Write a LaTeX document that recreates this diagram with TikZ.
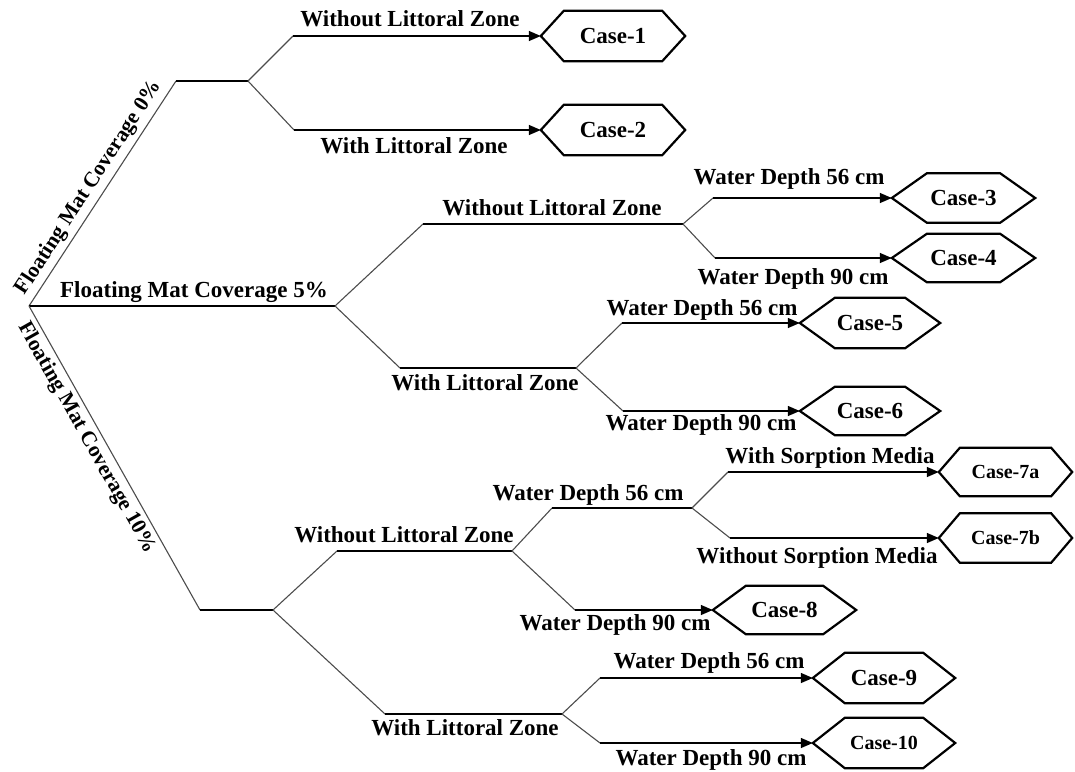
\documentclass[tikz,border=0pt]{standalone}
\usepackage{fontspec}
\setmainfont{Liberation Serif}
\usetikzlibrary{arrows.meta}
\begin{document}
\begin{tikzpicture}[x=1pt,y=-1pt,
  lbl/.style={font=\bfseries\fontsize{23}{27}\selectfont, inner sep=0pt, anchor=base},
  rlbl/.style={font=\bfseries\fontsize{21.5}{25}\selectfont, inner sep=4pt},
  hexnode/.style={font=\bfseries\fontsize{23}{27}\selectfont, inner sep=0pt},
  smallcase/.style={font=\bfseries\fontsize{20}{24}\selectfont},
  slant/.style={draw=black!70, line width=1.1pt},
  flat/.style={draw=black, line width=1.4pt},
  arr/.style={flat, -{Triangle[length=12pt,width=10pt]}},
  hexline/.style={draw=black, line width=2.2pt, line join=miter}
]
\useasboundingbox (0,0) rectangle (1075,771);

% hexagon nodes
\node[hexnode, minimum width=144pt, minimum height=50pt] (c1) at (613,36) {Case-1};
\node[hexnode, minimum width=144pt, minimum height=50pt] (c2) at (613,130) {Case-2};
\node[hexnode, minimum width=143pt, minimum height=49pt] (c3) at (963.5,198) {Case-3};
\node[hexnode, minimum width=143pt, minimum height=48pt] (c4) at (963.5,258) {Case-4};
\node[hexnode, minimum width=140pt, minimum height=50pt] (c5) at (870,323) {Case-5};
\node[hexnode, minimum width=140pt, minimum height=48pt] (c6) at (870,411) {Case-6};
\node[hexnode, smallcase, minimum width=133pt, minimum height=48pt] (c7a) at (1005.5,472) {Case-7a};
\node[hexnode, smallcase, minimum width=133pt, minimum height=49pt] (c7b) at (1005.5,538) {Case-7b};
\node[hexnode, minimum width=143pt, minimum height=48pt] (c8) at (784.5,610) {Case-8};
\node[hexnode, minimum width=142pt, minimum height=50pt] (c9) at (884,678) {Case-9};
\node[hexnode, smallcase, minimum width=142pt, minimum height=50pt] (c10) at (884,743) {Case-10};

\foreach \n/\s in {c1/23,c2/23,c3/35,c4/35,c5/35,c6/35,c7a/21,c7b/21,c8/33,c9/32,c10/32}
  \draw[hexline] (\n.west) -- ([xshift=\s]\n.north west) -- ([xshift=-\s]\n.north east)
    -- (\n.east) -- ([xshift=-\s]\n.south east) -- ([xshift=\s]\n.south west) -- cycle;

% junction coordinates
\coordinate (root) at (29,306);
\coordinate (f0a) at (176,81);
\coordinate (f0b) at (248,81);
\coordinate (t1) at (293,36);
\coordinate (t2) at (294,130);
\coordinate (f5) at (335,306);
\coordinate (m1) at (423,224);
\coordinate (m1e) at (683,224);
\coordinate (t3) at (713,198);
\coordinate (t4) at (715,258);
\coordinate (m2) at (400,368);
\coordinate (m2e) at (576,368);
\coordinate (t5) at (622,323);
\coordinate (t6) at (623,411);
\coordinate (b0) at (200,610);
\coordinate (b1) at (273,610);
\coordinate (n1) at (337,551);
\coordinate (n1e) at (512,551);
\coordinate (p1) at (552,508);
\coordinate (p1e) at (692,508);
\coordinate (t7a) at (728,472);
\coordinate (t7b) at (730,538);
\coordinate (t8) at (575,610);
\coordinate (n2) at (385,714);
\coordinate (n2e) at (562,714);
\coordinate (t9) at (600,678);
\coordinate (t10) at (600,743);

% 0% branch
\draw[slant] (root) -- node[rlbl, sloped, above, pos=0.49] (l0) {Floating Mat Coverage 0\%} (f0a);
\draw[flat] (f0a) -- (f0b);
\draw[slant] (f0b) -- (t1);
\draw[slant] (f0b) -- (t2);
\draw[arr] (t1) -- (c1.west);
\draw[arr] (t2) -- (c2.west);

% 5% branch
\draw[flat] (root) -- (f5);
\draw[slant] (f5) -- (m1);
\draw[slant] (f5) -- (m2);
\draw[flat] (m1) -- (m1e);
\draw[flat] (m2) -- (m2e);
\draw[slant] (m1e) -- (t3);
\draw[slant] (m1e) -- (t4);
\draw[slant] (m2e) -- (t5);
\draw[slant] (m2e) -- (t6);
\draw[arr] (t3) -- (c3.west);
\draw[arr] (t4) -- (c4.west);
\draw[arr] (t5) -- (c5.west);
\draw[arr] (t6) -- (c6.west);

% 10% branch
\draw[slant] (root) -- node[rlbl, sloped, below, pos=0.41] (l10) {Floating Mat Coverage 10\%} (b0);
\draw[flat] (b0) -- (b1);
\draw[slant] (b1) -- (n1);
\draw[slant] (b1) -- (n2);
\draw[flat] (n1) -- (n1e);
\draw[flat] (n2) -- (n2e);
\draw[slant] (n1e) -- (p1);
\draw[slant] (n1e) -- (t8);
\draw[flat] (p1) -- (p1e);
\draw[slant] (p1e) -- (t7a);
\draw[slant] (p1e) -- (t7b);
\draw[slant] (n2e) -- (t9);
\draw[slant] (n2e) -- (t10);
\draw[arr] (t7a) -- (c7a.west);
\draw[arr] (t7b) -- (c7b.west);
\draw[arr] (t8) -- (c8.west);
\draw[arr] (t9) -- (c9.west);
\draw[arr] (t10) -- (c10.west);

% labels
\node[lbl] (l1) at (410,27) {Without Littoral Zone};
\node[lbl] (l2) at (414,153) {With Littoral Zone};
\node[lbl] (l5) at (194,297) {Floating Mat Coverage 5\%};
\node[lbl] (l3) at (552,215) {Without Littoral Zone};
\node[lbl] (l4) at (485,390) {With Littoral Zone};
\node[lbl] (l6) at (789,184) {Water Depth 56 cm};
\node[lbl] (l7) at (793,284) {Water Depth 90 cm};
\node[lbl] (l8) at (702,315) {Water Depth 56 cm};
\node[lbl] (l9) at (701,430) {Water Depth 90 cm};
\node[lbl] (l11) at (830,463) {With Sorption Media};
\node[lbl] (l12) at (817,563) {Without Sorption Media};
\node[lbl] (l13) at (588,500) {Water Depth 56 cm};
\node[lbl] (l14) at (404,542) {Without Littoral Zone};
\node[lbl] (l15) at (615,630) {Water Depth 90 cm};
\node[lbl] (l16) at (465,735) {With Littoral Zone};
\node[lbl] (l17) at (709,668) {Water Depth 56 cm};
\node[lbl] (l18) at (711,765) {Water Depth 90 cm};
\end{tikzpicture}
\end{document}
